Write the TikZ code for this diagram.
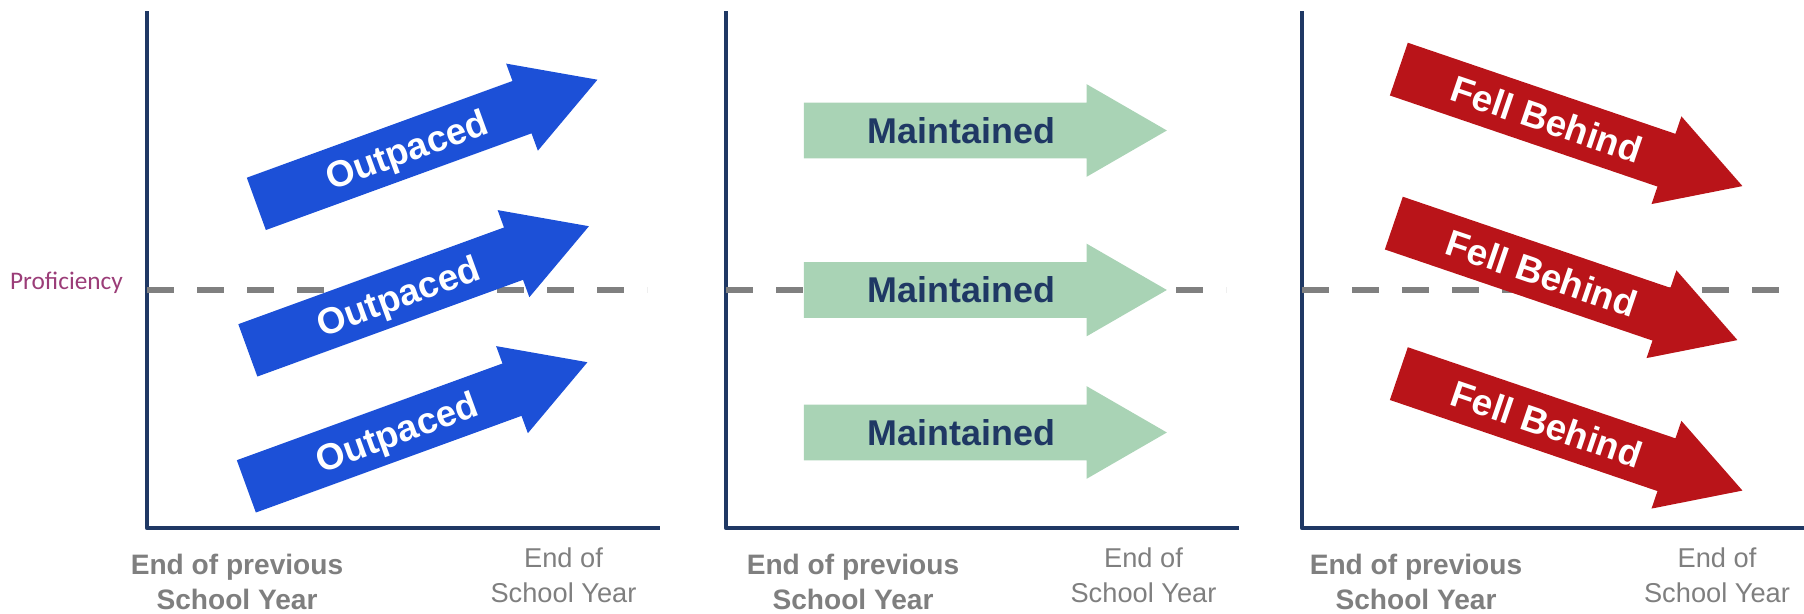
\documentclass[tikz,border=0pt]{standalone}
\usepackage{fontspec}
\setmainfont{Liberation Sans}
\newfontfamily\carlito{Carlito}
\usepackage{tikz}
\usetikzlibrary{shapes.arrows,calc}

\definecolor{axisblue}{RGB}{31,56,100}
\definecolor{upblue}{RGB}{28,80,215}
\definecolor{flatgreen}{RGB}{169,211,181}
\definecolor{downred}{RGB}{185,20,25}
\definecolor{dashgray}{RGB}{128,128,128}
\definecolor{labelgray}{RGB}{127,127,127}
\definecolor{profpurple}{RGB}{155,61,120}

\begin{document}
\begin{tikzpicture}[
		axis_style/.style={draw=axisblue,line width=2.6pt,line join=round},
		level_style/.style={draw=dashgray,line width=3.5pt,dash pattern=on 0.53cm off 0.47cm},
		arrow_style/.style={single arrow,anchor=tail,inner xsep=0pt,inner ysep=0.55cm,
			minimum height=7.26cm,minimum width=1.84cm,single arrow head extend=0.37cm,
			single arrow tip angle=60},
		up_style/.style={arrow_style,fill=upblue,rotate=20},
		flat_style/.style={arrow_style,fill=flatgreen},
		down_style/.style={arrow_style,fill=downred,rotate=-18.8},
		white_text/.style={text=white,font=\bfseries\fontsize{21}{21}\selectfont,
			inner sep=0pt,text height=15pt,text depth=0pt},
		navy_text/.style={text=axisblue,font=\bfseries\fontsize{20.4}{20.4}\selectfont,
			inner sep=0pt,text height=14.6pt,text depth=0pt},
		start_label/.style={text=labelgray,font=\bfseries\fontsize{16}{19.9}\selectfont,align=center},
		end_label/.style={text=labelgray,font=\fontsize{15.5}{19.9}\selectfont,align=center}]

		\useasboundingbox (0,0) rectangle (36.08,12.28);

		% axes
		\coordinate (top1) at (2.94,12.05);
		\coordinate (org1) at (2.94,1.72);
		\coordinate (end1) at (13.2,1.72);
		\coordinate (top2) at (14.52,12.05);
		\coordinate (org2) at (14.52,1.72);
		\coordinate (end2) at (24.78,1.72);
		\coordinate (top3) at (26.04,12.05);
		\coordinate (org3) at (26.04,1.72);
		\coordinate (end3) at (36.08,1.72);

		\draw[axis_style] (top1) -- (org1) -- (end1);
		\draw[axis_style] (top2) -- (org2) -- (end2);
		\draw[axis_style] (top3) -- (org3) -- (end3);

		% proficiency level
		\coordinate (lvl1a) at (2.94,6.48);
		\coordinate (lvl1b) at (12.94,6.48);
		\coordinate (lvl2a) at (14.52,6.48);
		\coordinate (lvl2b) at (24.52,6.48);
		\coordinate (lvl3a) at (26.04,6.48);
		\coordinate (lvl3b) at (35.80,6.48);

		\draw[level_style] (lvl1a) -- (lvl1b);
		\draw[level_style] (lvl2a) -- (lvl2b);
		\draw[level_style] (lvl3a) -- (lvl3b);

		\node[anchor=base,text=profpurple,font=\carlito\fontsize{14.4}{14.4}\selectfont] (prof) at (1.33,6.48) {Proficiency};

		% arrows
		\node[up_style] (b1) at (5.12,8.20) {};
		\node[up_style] (b2) at (4.95,5.27) {};
		\node[up_style] (b3) at (4.92,2.55) {};
		\node[flat_style] (g1) at (16.07,9.67) {};
		\node[flat_style] (g2) at (16.07,6.48) {};
		\node[flat_style] (g3) at (16.07,3.63) {};
		\node[down_style] (r1) at (27.97,10.90) {};
		\node[down_style] (r2) at (27.87,7.82) {};
		\node[down_style] (r3) at (27.97,4.81) {};

		\node[white_text,rotate=20] (tb1) at ($(b1.tail)!0.44!(b1.tip)$) {Outpaced};
		\node[white_text,rotate=20] (tb2) at ($(b2.tail)!0.44!(b2.tip)$) {Outpaced};
		\node[white_text,rotate=20] (tb3) at ($(b3.tail)!0.44!(b3.tip)$) {Outpaced};
		\node[navy_text] (tg1) at ($(g1.tail)!0.434!(g1.tip)$) {Maintained};
		\node[navy_text] (tg2) at ($(g2.tail)!0.434!(g2.tip)$) {Maintained};
		\node[navy_text] (tg3) at ($(g3.tail)!0.434!(g3.tip)$) {Maintained};
		\node[white_text,rotate=-18.8] (tr1) at ($(r1.tail)!0.43!(r1.tip)$) {Fell Behind};
		\node[white_text,rotate=-18.8] (tr2) at ($(r2.tail)!0.43!(r2.tip)$) {Fell Behind};
		\node[white_text,rotate=-18.8] (tr3) at ($(r3.tail)!0.43!(r3.tip)$) {Fell Behind};

		% time labels
		\node[start_label] (s1) at (4.74,0.64) {End of previous\\School Year};
		\node[end_label] (e1) at (11.27,0.78) {End of\\School Year};
		\node[start_label] (s2) at (17.06,0.64) {End of previous\\School Year};
		\node[end_label] (e2) at (22.87,0.78) {End of\\School Year};
		\node[start_label] (s3) at (28.32,0.64) {End of previous\\School Year};
		\node[end_label] (e3) at (34.34,0.78) {End of\\School Year};
\end{tikzpicture}
\end{document}
